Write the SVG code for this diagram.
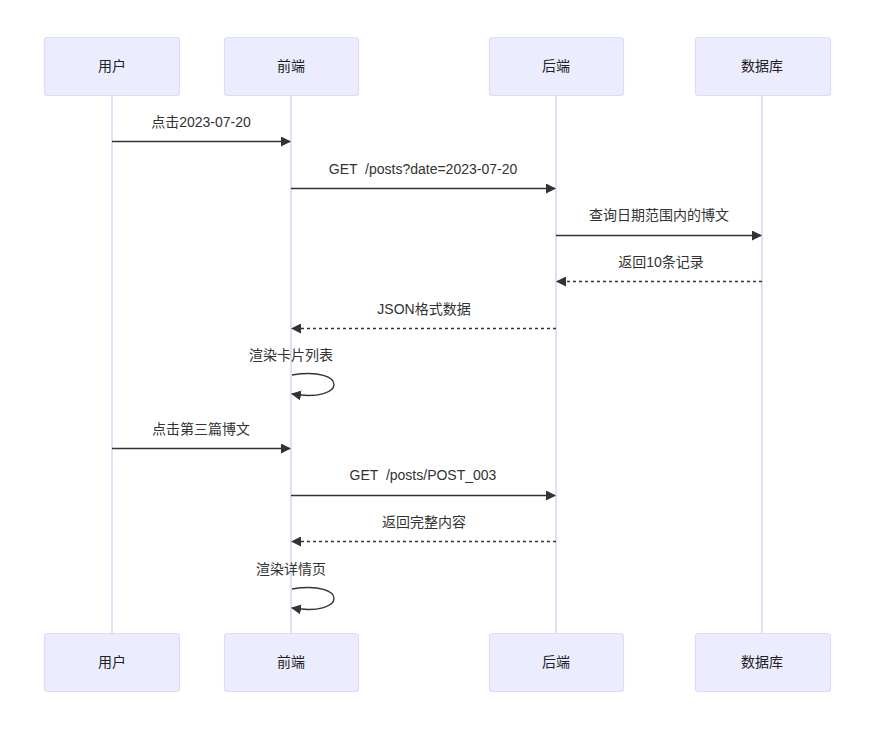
<svg xmlns="http://www.w3.org/2000/svg" width="875" height="730" viewBox="0 0 875 730">
<style>
.actor rect{fill:#ECECFF;stroke:#E0DAF8;stroke-width:1.2}
.actor text{font-family:"Liberation Sans","Noto Sans CJK SC",sans-serif;font-size:14px;fill:#222;text-anchor:middle;dominant-baseline:central}
.life{stroke:#DCD5F7;stroke-width:1.6}
.msg{stroke:#333;stroke-width:1.4;fill:none}
.dash{stroke-dasharray:3,3}
.lbl{font-family:"Liberation Sans","Noto Sans CJK SC",sans-serif;font-size:14px;fill:#333;text-anchor:middle;dominant-baseline:central;white-space:pre}
</style>
<defs>
<marker id="ah" viewBox="0 0 10 10" refX="9" refY="5" markerWidth="10" markerHeight="10" markerUnits="userSpaceOnUse" orient="auto">
<path d="M0,0 L10,5 L0,10 z" fill="#333"/>
</marker>
</defs>
<g id="lifelines">
<line class="life" x1="112" y1="95" x2="112" y2="633"/>
<line class="life" x1="291" y1="95" x2="291" y2="633"/>
<line class="life" x1="556" y1="95" x2="556" y2="633"/>
<line class="life" x1="762" y1="95" x2="762" y2="633"/>
</g>
<g id="actor-user-top" class="actor"><rect x="44.5" y="37.5" width="135" height="58" rx="3"/><text x="112" y="66">用户</text></g>
<g id="actor-fe-top" class="actor"><rect x="224.5" y="37.5" width="134" height="58" rx="3"/><text x="291" y="66">前端</text></g>
<g id="actor-be-top" class="actor"><rect x="489.5" y="37.5" width="134" height="58" rx="3"/><text x="556" y="66">后端</text></g>
<g id="actor-db-top" class="actor"><rect x="695.5" y="37.5" width="135" height="58" rx="3"/><text x="762" y="66">数据库</text></g>
<g id="actor-user-bottom" class="actor"><rect x="44.5" y="633.5" width="135" height="58" rx="3"/><text x="112" y="662">用户</text></g>
<g id="actor-fe-bottom" class="actor"><rect x="224.5" y="633.5" width="134" height="58" rx="3"/><text x="291" y="662">前端</text></g>
<g id="actor-be-bottom" class="actor"><rect x="489.5" y="633.5" width="134" height="58" rx="3"/><text x="556" y="662">后端</text></g>
<g id="actor-db-bottom" class="actor"><rect x="695.5" y="633.5" width="135" height="58" rx="3"/><text x="762" y="662">数据库</text></g>
<g id="messages">
<text class="lbl" x="201" y="122">点击2023-07-20</text>
<line class="msg" x1="112" y1="141.5" x2="290" y2="141.5" marker-end="url(#ah)"/>
<text class="lbl" x="423" y="169" xml:space="preserve">GET  /posts?date=2023-07-20</text>
<line class="msg" x1="291" y1="188.5" x2="555" y2="188.5" marker-end="url(#ah)"/>
<text class="lbl" x="659" y="215">查询日期范围内的博文</text>
<line class="msg" x1="556" y1="235.5" x2="761" y2="235.5" marker-end="url(#ah)"/>
<text class="lbl" x="661" y="262">返回10条记录</text>
<line class="msg dash" x1="762" y1="281.5" x2="557" y2="281.5" marker-end="url(#ah)"/>
<text class="lbl" x="424" y="309">JSON格式数据</text>
<line class="msg dash" x1="556" y1="328.5" x2="292" y2="328.5" marker-end="url(#ah)"/>
<text class="lbl" x="291" y="355">渲染卡片列表</text>
<path class="msg" d="M292,375 C348,366 348,403 292,394" marker-end="url(#ah)"/>
<text class="lbl" x="201" y="429">点击第三篇博文</text>
<line class="msg" x1="112" y1="448.5" x2="290" y2="448.5" marker-end="url(#ah)"/>
<text class="lbl" x="423" y="475" xml:space="preserve">GET  /posts/POST_003</text>
<line class="msg" x1="291" y1="495.5" x2="555" y2="495.5" marker-end="url(#ah)"/>
<text class="lbl" x="424" y="522">返回完整内容</text>
<line class="msg dash" x1="556" y1="541.5" x2="292" y2="541.5" marker-end="url(#ah)"/>
<text class="lbl" x="291" y="569">渲染详情页</text>
<path class="msg" d="M292,589 C348,580 348,617 292,608" marker-end="url(#ah)"/>
</g>
</svg>
